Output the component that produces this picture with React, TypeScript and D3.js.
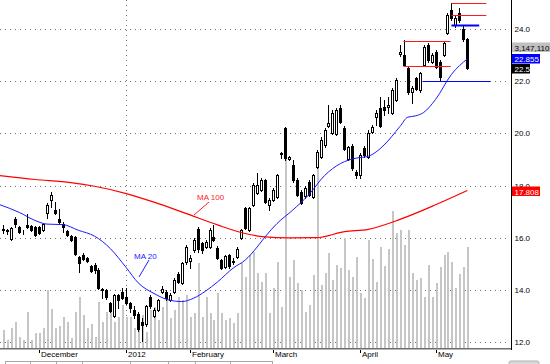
import { useRef, useEffect } from "react";
import * as d3 from "d3";

// daily bars, oldest first (price in $, volume in millions of shares)
const opens = [
  16.33, 16.3, 15.95, 16.72, 16.41, 16.22, 16.49, 16.45, 16.41, 16.41, 16.3, 16.95, 17.45, 17.06, 16.72, 16.52, 16.26, 16.06, 16.03, 15.26,
  15.34, 15.22, 14.91, 14.95, 14.76, 14.03, 13.99, 13.5, 13.0, 13.8, 13.92, 13.73, 13.5, 13.23, 13.07, 12.77, 12.69, 13.73, 13.0, 13.23,
  13.92, 13.92, 13.61, 13.92, 14.61, 14.26, 15.07, 15.11, 15.53, 16.33, 15.8, 15.64, 15.64, 16.03, 15.62, 15.14, 14.88, 15.34, 15.11, 15.26,
  15.99, 17.14, 16.3, 17.25, 17.71, 17.83, 18.21, 17.25, 17.45, 17.56, 19.25, 20.21, 19.02, 18.79, 18.21, 17.75, 17.6, 18.13, 17.56, 18.71,
  19.09, 19.56, 20.28, 20.01, 19.98, 20.97, 20.21, 19.02, 19.52, 18.52, 18.4, 19.44, 19.09, 20.05, 20.63, 20.97, 21.01, 21.01, 20.78, 21.28,
  23.04, 23.0, 22.51, 21.59, 22.12, 21.66, 22.62, 23.39, 22.74, 23.12, 22.74, 23.0, 23.85, 24.73, 24.16, 24.62, 24.0, 23.62,
];
const highs = [
  16.49, 16.33, 16.41, 16.79, 16.45, 16.3, 16.91, 16.49, 16.45, 16.45, 16.56, 17.33, 17.75, 17.37, 17.1, 16.6, 16.3, 16.1, 16.06, 15.3,
  15.41, 15.26, 14.95, 15.03, 14.84, 14.07, 14.03, 13.53, 13.84, 13.84, 14.07, 14.07, 13.53, 13.38, 13.15, 12.92, 13.42, 13.8, 13.3, 13.65,
  14.15, 13.99, 13.88, 14.45, 14.68, 15.07, 15.72, 15.34, 15.99, 16.41, 15.83, 15.91, 16.37, 16.49, 15.68, 15.18, 15.34, 15.38, 15.22, 15.64,
  16.33, 17.18, 17.18, 18.1, 18.48, 18.29, 18.25, 17.52, 17.9, 18.44, 19.29, 20.24, 19.13, 18.98, 18.29, 17.83, 17.98, 18.21, 18.44, 19.36,
  19.86, 20.21, 21.09, 20.9, 20.97, 21.09, 20.28, 19.52, 19.6, 18.6, 19.25, 19.52, 20.13, 20.32, 20.9, 21.41, 21.28, 21.41, 21.74, 22.12,
  23.39, 23.58, 22.58, 21.82, 22.16, 22.36, 23.39, 23.47, 23.08, 23.2, 22.81, 23.54, 24.62, 25.0, 24.54, 24.81, 24.12, 23.66,
];
const lows = [
  16.18, 16.14, 15.91, 16.41, 16.18, 16.14, 16.37, 16.26, 16.06, 16.14, 16.26, 16.76, 17.18, 16.91, 16.56, 16.22, 16.06, 15.87, 15.34, 14.68,
  15.14, 15.07, 14.68, 14.65, 14.03, 13.69, 13.65, 13.15, 12.96, 13.3, 13.65, 13.46, 13.15, 12.92, 12.42, 12.04, 12.61, 13.3, 12.96, 13.19,
  13.88, 13.61, 13.57, 13.88, 14.26, 14.22, 14.99, 14.84, 15.45, 15.45, 15.41, 15.62, 15.62, 15.87, 15.18, 14.8, 14.84, 14.84, 14.99, 15.22,
  15.95, 16.33, 16.26, 17.21, 17.68, 17.79, 17.33, 17.06, 17.41, 17.52, 19.06, 18.98, 18.98, 18.13, 17.6, 17.29, 17.52, 17.6, 17.52, 18.67,
  19.06, 19.48, 20.24, 19.98, 19.94, 20.4, 19.36, 18.98, 18.6, 18.29, 18.29, 19.09, 19.06, 20.01, 20.32, 20.24, 20.7, 20.78, 20.74, 21.24,
  22.96, 22.58, 21.51, 21.17, 21.66, 21.59, 22.58, 22.74, 22.7, 22.51, 22.05, 22.96, 23.81, 24.35, 24.08, 24.27, 23.54, 22.47,
];
const closes = [
  16.3, 16.26, 16.37, 16.52, 16.22, 16.2, 16.41, 16.3, 16.1, 16.18, 16.52, 17.25, 17.64, 16.95, 16.6, 16.41, 16.1, 15.91, 15.38, 15.03,
  15.18, 15.11, 14.72, 14.76, 14.07, 13.99, 13.73, 13.19, 13.8, 13.61, 13.69, 13.5, 13.3, 13.04, 12.5, 12.65, 13.38, 13.38, 13.23, 13.61,
  14.03, 13.69, 13.8, 14.38, 14.3, 15.03, 15.64, 15.22, 15.91, 15.57, 15.53, 15.83, 16.3, 15.91, 15.22, 14.84, 15.3, 14.91, 15.07, 15.57,
  16.3, 16.37, 17.14, 18.02, 18.02, 18.21, 17.37, 17.45, 17.83, 18.4, 19.21, 19.06, 19.09, 18.21, 17.64, 17.33, 17.9, 17.64, 18.4, 19.29,
  19.75, 20.13, 20.4, 20.78, 20.9, 20.44, 19.4, 19.48, 18.67, 18.4, 19.17, 19.17, 20.01, 20.24, 20.78, 20.28, 20.9, 21.09, 21.66, 22.05,
  23.12, 22.62, 21.59, 21.74, 21.7, 22.32, 23.31, 22.81, 23.0, 22.55, 22.16, 23.47, 24.54, 24.42, 24.42, 24.35, 23.62, 22.5,
];
const volumes = [
  0.55, 0.25, 0.63, 0.8, 0.35, 0.25, 1.12, 0.25, 0.47, 0.47, 0.62, 1.81, 1.22, 0.62, 0.7, 0.98, 0.82, 0.3, 1.12, 1.6,
  1.03, 0.62, 0.75, 0.35, 1.45, 0.82, 1.13, 1.13, 0.82, 0.98, 1.34, 0.98, 0.98, 0.62, 0.9, 1.03, 0.5, 1.19, 1.28, 0.88,
  1.28, 1.76, 0.93, 1.19, 1.6, 1.5, 1.66, 0.97, 1.09, 2.66, 0.97, 1.59, 1.09, 0.88, 1.72, 1.09, 0.88, 0.94, 0.78, 1.09,
  2.66, 2.22, 2.91, 3.0, 2.34, 2.06, 2.34, 1.09, 1.88, 2.69, 1.28, 6.81, 2.22, 2.75, 2.03, 1.81, 1.13, 1.34, 2.28, 5.81,
  1.97, 2.34, 2.97, 2.13, 2.59, 2.5, 3.44, 2.44, 2.22, 2.84, 1.72, 1.56, 3.38, 2.78, 2.06, 3.16, 2.56, 3.09, 4.28, 3.59,
  3.69, 3.22, 3.69, 2.34, 2.13, 2.19, 1.59, 2.59, 1.59, 2.03, 2.53, 2.91, 3.0, 2.69, 1.88, 2.31, 2.53, 3.15,
];

// bar index where each month label sits
const monthTicks = [9, 31, 47, 68, 90, 109];
const monthLabels = ["December", "2012", "February", "March", "April", "May"];
const priceTicks = [12, 14, 16, 18, 20, 22, 24];

// moving averages (bar index -> value)
const ma20Idx = [-1, 4, 8, 11, 15, 19, 23, 27, 31, 34, 38, 42, 45, 48, 51, 54, 58, 61, 64, 66, 69, 73, 77, 81, 85, 89, 92, 96, 100, 102, 104, 106, 109, 113, 117];
const ma20Val = [17.27, 16.97, 16.66, 16.52, 16.5, 16.28, 16.06, 15.58, 14.85, 14.27, 13.86, 13.6, 13.55, 13.68, 13.95, 14.3, 14.84, 15.14, 15.64, 16.03, 16.54, 17.06, 17.64, 18.38, 18.84, 19.05, 19.12, 19.55, 20.26, 20.62, 20.67, 20.8, 21.3, 22.26, 22.855];
const ma100Idx = [-1, 8, 17, 23, 31, 38, 46, 54, 61, 66, 72, 79, 86, 92, 100, 109, 117];
const ma100Val = [18.38, 18.23, 18.11, 17.97, 17.69, 17.36, 16.93, 16.49, 16.16, 16.03, 15.99, 16.0, 16.23, 16.32, 16.7, 17.26, 17.808];

// drawn support / resistance levels
const levelPrices = [25.01, 24.54, 24.14, 23.53, 22.58, 22.02];
const levelFrom = [113, 113, 113, 100.9, 100.9, 105.7];
const levelTo = [121.8, 121.8, 120, 112.8, 112.8, 122.8];
const levelKinds = ["resist", "resist", "support", "resist", "resist", "support"];

const lastVolume = "3,147,110";

export default function App() {
  const svgRef = useRef<SVGSVGElement>(null);

  useEffect(() => {
    const svg = d3.select(svgRef.current);
    svg.selectAll("*").remove();

    const width = 550;
    const height = 364;
    const plotRight = 511;
    const plotBottom = 348;
    const font = "'Liberation Sans', Arial, sans-serif";

    svg.attr("width", width).attr("height", height).attr("viewBox", `0 0 ${width} ${height}`);

    const x = d3.scaleLinear().domain([0, opens.length - 1]).range([3.3, 467.3]);
    const y = d3.scaleLinear().domain([12, 24]).range([342, 29]);
    const yVol = d3.scaleLinear().domain([0, 10]).range([plotBottom, 28]);
    const px = (i: number) => Math.round(x(i));
    const py = (v: number) => Math.round(y(v));

    svg.append("rect").attr("width", width).attr("height", height).attr("fill", "#fff");

    svg.append("defs").append("clipPath").attr("id", "plot")
      .append("rect").attr("x", 0).attr("y", 0).attr("width", plotRight).attr("height", plotBottom);

    const plot = svg.append("g").attr("clip-path", "url(#plot)");

    // gridlines
    plot.selectAll(".grid")
      .data(priceTicks)
      .enter()
      .append("line")
      .attr("x1", 0)
      .attr("x2", 508)
      .attr("y1", d => py(d) + 0.5)
      .attr("y2", d => py(d) + 0.5)
      .attr("stroke", "#707070")
      .attr("stroke-dasharray", "1,4");

    // year separator
    plot.append("line")
      .attr("x1", px(31) + 0.5)
      .attr("x2", px(31) + 0.5)
      .attr("y1", 0)
      .attr("y2", plotBottom)
      .attr("stroke", "#707070")
      .attr("stroke-dasharray", "1,4");

    // volume
    plot.selectAll(".vol")
      .data(volumes)
      .enter()
      .append("rect")
      .attr("x", (d, i) => px(i))
      .attr("y", d => Math.round(yVol(d)))
      .attr("width", 2)
      .attr("height", d => plotBottom - Math.round(yVol(d)))
      .attr("fill", "#c6c6c6");

    // candles
    const idx = d3.range(opens.length);
    const candles = plot.selectAll(".candle").data(idx).enter().append("g");

    candles.append("line")
      .attr("x1", i => px(i) + 0.5)
      .attr("x2", i => px(i) + 0.5)
      .attr("y1", i => py(highs[i]))
      .attr("y2", i => py(lows[i]) + 1)
      .attr("stroke", "#000");

    candles.append("rect")
      .attr("x", i => px(i) - 0.5)
      .attr("y", i => py(Math.max(opens[i], closes[i])) + 0.5)
      .attr("width", 2)
      .attr("height", i => Math.max(py(Math.min(opens[i], closes[i])) - py(Math.max(opens[i], closes[i])), 0))
      .attr("fill", i => (closes[i] >= opens[i] ? "#fff" : "#000"))
      .attr("stroke", "#000")
      .attr("stroke-width", 1);

    // moving averages
    const line = d3.line<number>()
      .x(d => x(d))
      .curve(d3.curveMonotoneX);

    plot.append("path")
      .datum(ma100Idx)
      .attr("fill", "none")
      .attr("stroke", "#ff0000")
      .attr("stroke-width", 1.2)
      .attr("d", line.y((d, i) => y(ma100Val[i])));

    plot.append("path")
      .datum(ma20Idx)
      .attr("fill", "none")
      .attr("stroke", "#1a1aff")
      .attr("stroke-width", 1)
      .attr("d", line.y((d, i) => y(ma20Val[i])));

    // support / resistance lines
    levelPrices.forEach((p, k) => {
      svg.append("line")
        .attr("x1", x(levelFrom[k]))
        .attr("x2", x(levelTo[k]))
        .attr("y1", py(p) + 0.5)
        .attr("y2", py(p) + 0.5)
        .attr("stroke", levelKinds[k] === "support" ? "#0000ff" : "#ff1a1a")
        .attr("stroke-width", levelKinds[k] === "support" && k === 2 ? 2 : 1.2);
    });

    // MA labels with leaders
    svg.append("text")
      .attr("x", 134).attr("y", 258.5)
      .attr("fill", "#2020ff").attr("font-size", 8).attr("font-family", font)
      .text("MA 20");
    svg.append("line")
      .attr("x1", 149).attr("y1", 260).attr("x2", 139).attr("y2", 277)
      .attr("stroke", "#2020ff");
    svg.append("text")
      .attr("x", 197).attr("y", 199.5)
      .attr("fill", "#ff2020").attr("font-size", 8).attr("font-family", font)
      .text("MA 100");
    svg.append("line")
      .attr("x1", 209).attr("y1", 202).attr("x2", 194).attr("y2", 215)
      .attr("stroke", "#ff2020");

    // frame
    svg.append("line")
      .attr("x1", 0).attr("x2", plotRight).attr("y1", 348.5).attr("y2", 348.5)
      .attr("stroke", "#6e6e6e");
    svg.append("line")
      .attr("x1", 0).attr("x2", plotRight).attr("y1", 349.5).attr("y2", 349.5)
      .attr("stroke", "#b8b8b8");
    svg.append("line")
      .attr("x1", plotRight + 0.5).attr("x2", plotRight + 0.5).attr("y1", 0).attr("y2", 350)
      .attr("stroke", "#000");

    // x axis ticks and labels
    monthTicks.forEach((t, k) => {
      svg.append("line")
        .attr("x1", px(t) + 0.5).attr("x2", px(t) + 0.5)
        .attr("y1", 350).attr("y2", 353)
        .attr("stroke", "#000");
      svg.append("text")
        .attr("x", px(t) + 2)
        .attr("y", 356.5)
        .attr("font-size", 8)
        .attr("font-family", font)
        .attr("fill", "#000")
        .text(monthLabels[k]);
    });

    // y axis labels
    priceTicks.forEach(t => {
      svg.append("text")
        .attr("x", 514.5)
        .attr("y", py(t) + 3)
        .attr("font-size", 8)
        .attr("font-family", font)
        .attr("fill", "#000")
        .text(t.toFixed(1));
    });

    // last value markers on the axis
    const last = closes.length - 1;
    const tags = [
      { text: lastVolume, top: 42.5, w: 40, bg: "#c0c0c0", fg: "#000" },
      { text: ma20Val[ma20Val.length - 1].toFixed(3), top: py(ma20Val[ma20Val.length - 1]) - 5, w: 28, bg: "#0000ff", fg: "#fff" },
      { text: String(closes[last]), top: py(closes[last]) - 4, w: 18, bg: "#000", fg: "#fff" },
      { text: ma100Val[ma100Val.length - 1].toFixed(3), top: py(ma100Val[ma100Val.length - 1]) - 4.5, w: 28, bg: "#ff0000", fg: "#fff" },
    ];
    tags.forEach(tg => {
      svg.append("rect")
        .attr("x", plotRight + 1).attr("y", tg.top)
        .attr("width", tg.w).attr("height", 9.5)
        .attr("fill", tg.bg);
      svg.append("text")
        .attr("x", plotRight + 3.5)
        .attr("y", tg.top + 8)
        .attr("font-size", 8)
        .attr("font-family", font)
        .attr("fill", tg.fg)
        .text(tg.text);
    });

    // tab strip at the bottom edge
    const tabEdges = [5, 30, 56, 82, 130, 168, 195, 230, 272];
    svg.append("line")
      .attr("x1", 5).attr("x2", 272).attr("y1", 361.5).attr("y2", 361.5)
      .attr("stroke", "#a8a8a8");
    tabEdges.forEach(e => {
      svg.append("line")
        .attr("x1", e + 0.5).attr("x2", e + 0.5).attr("y1", 361).attr("y2", 364)
        .attr("stroke", "#a8a8a8");
    });
    svg.append("rect")
      .attr("x", 509).attr("y", 361).attr("width", 30).attr("height", 6).attr("rx", 2)
      .attr("fill", "#d8d8d8").attr("stroke", "#b0b0b0");
  }, []);

  return (
    <svg
      ref={svgRef}
      style={{ position: "fixed", left: 0, top: 0, display: "block" }}
    />
  );
}
